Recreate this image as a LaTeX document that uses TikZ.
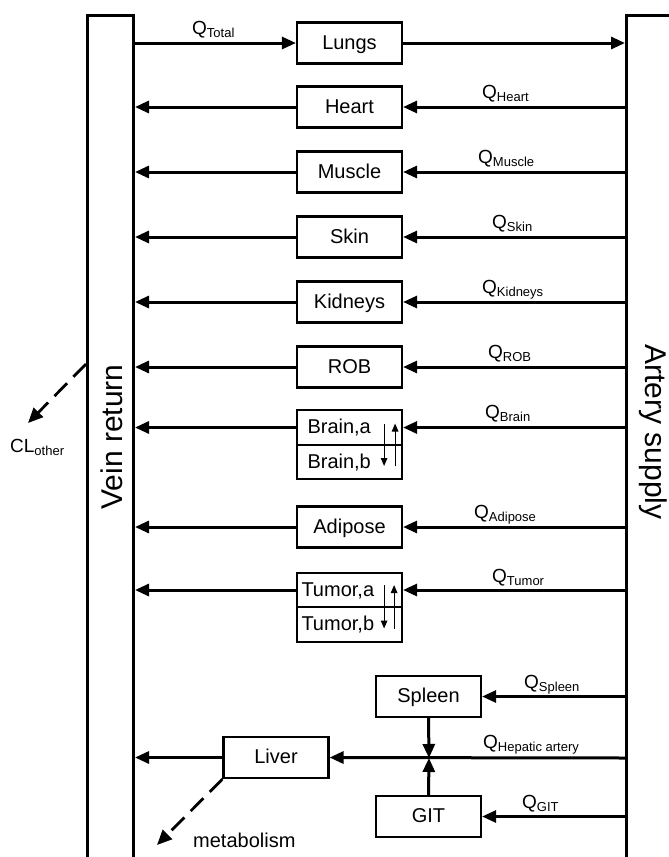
\documentclass[tikz,border=0pt]{standalone}
\usepackage{fontspec}
\setmainfont{Liberation Sans}
\usetikzlibrary{arrows.meta,calc}
\newcommand{\Qsub}[2]{#1\raisebox{-3pt}{\fontsize{13}{13}\selectfont #2}}
\begin{document}
\begin{tikzpicture}[x=1pt,y=-1pt,
  box/.style={draw,line width=2.2pt,minimum width=105pt,minimum height=41pt,inner sep=0pt,
    text height=14pt,text depth=2pt,font=\fontsize{20}{20}\selectfont},
  half/.style={draw,line width=2.2pt,text width=#1,minimum height=34.5pt,inner ysep=0pt,
    inner xsep={(105pt-#1)/2},align=left,text height=14pt,text depth=2pt,font=\fontsize{20}{20}\selectfont},
  col/.style={draw,line width=3pt,minimum width=46pt,minimum height=900pt,anchor=north west,inner sep=0pt},
  arr/.style={line width=3pt,-{Triangle[length=14pt,width=12pt]}},
  thinarr/.style={line width=1.2pt,-{Triangle[length=8pt,width=6.5pt]}},
  darr/.style={line width=2.8pt,dash pattern=on 18pt off 9pt,-{Triangle[length=15pt,width=13pt]}},
  qlab/.style={anchor=base west,inner sep=0pt,font=\fontsize{19}{19}\selectfont},
  coltext/.style={anchor=base,inner sep=0pt,font=\fontsize{30}{30}\selectfont},
  plain/.style={anchor=base west,inner sep=0pt,font=\fontsize{20}{20}\selectfont}
]
\useasboundingbox (0,0) rectangle (669,857);
% columns
\node[col] (vein) at (86,14) {};
\node[col] (artery) at (625,14) {};
\node[coltext,rotate=90] (veintext) at (122,437) {Vein return};
\node[coltext,rotate=-90] (arterytext) at (645,432) {Artery supply};
% organ boxes
\node[box] (lungs) at (349.5,43) {Lungs};
\node[box] (heart) at (349.5,107) {Heart};
\node[box] (muscle) at (349.5,172) {Muscle};
\node[box] (skin) at (349.5,237) {Skin};
\node[box] (kidneys) at (349.5,302) {Kidneys};
\node[box] (rob) at (349.5,367) {ROB};
\node[half=84pt] (braina) at (349.5,427.5) {Brain,a};
\node[half=84pt,anchor=north] (brainb) at ($(braina.south)+(0,-2.2)$) {Brain,b};
\node[box] (adipose) at (349.5,527) {Adipose};
\node[half=96pt] (tumora) at (349.5,590) {Tumor,a};
\node[half=96pt,anchor=north] (tumorb) at ($(tumora.south)+(0,-2.2)$) {Tumor,b};
\node[box] (spleen) at (428.5,696.5) {Spleen};
\node[box] (liver) at (276,757.5) {Liver};
\node[box] (git) at (428.5,816.5) {GIT};
\coordinate (junc) at (429,758);
% flows
\draw[arr] (vein.east |- lungs.west) -- (lungs.west);
\draw[arr] (lungs.east) -- (artery.west |- lungs.east);
\foreach \o in {heart,muscle,skin,kidneys,rob,braina,adipose,tumora}{
  \draw[arr] (artery.west |- \o.east) -- (\o.east);
  \draw[arr] (\o.west) -- (vein.east |- \o.west);
}
\draw[arr] (artery.west |- spleen.east) -- (spleen.east);
\draw[arr] (artery.west |- git.east) -- (git.east);
\draw[arr] (spleen.south) -- (junc);
\draw[arr] (git.north) -- (junc);
\draw[arr] (artery.west |- junc) -- (liver.east);
\draw[arr] (liver.west) -- (vein.east |- liver.west);
% internal exchange arrows
\draw[thinarr] ($(braina.east)+(-19,-4)$) -- ($(brainb.east)+(-19,4)$);
\draw[thinarr] ($(brainb.east)+(-8,4)$) -- ($(braina.east)+(-8,-4)$);
\draw[thinarr] ($(tumora.east)+(-19,-5)$) -- ($(tumorb.east)+(-19,4)$);
\draw[thinarr] ($(tumorb.east)+(-9,4)$) -- ($(tumora.east)+(-9,-5)$);
% elimination
\coordinate (clstart) at (86,364);
\coordinate (cltip) at (28,423);
\draw[darr] (clstart) -- (cltip);
\coordinate (mtip) at (157,845);
\draw[darr] (liver.south west) -- (mtip);
\node[qlab] (clother) at (10,452) {\Qsub{CL}{other}};
\node[plain] (metab) at (193,847) {metabolism};
% flow labels
\node[qlab] (qtotal) at (192,34) {\Qsub{Q}{Total}};
\node[qlab] (qheart) at (482,98) {\Qsub{Q}{Heart}};
\node[qlab] (qmuscle) at (478,163) {\Qsub{Q}{Muscle}};
\node[qlab] (qskin) at (492,228) {\Qsub{Q}{Skin}};
\node[qlab] (qkidneys) at (482,293) {\Qsub{Q}{Kidneys}};
\node[qlab] (qrob) at (488,358) {\Qsub{Q}{ROB}};
\node[qlab] (qbrain) at (485,418) {\Qsub{Q}{Brain}};
\node[qlab] (qadipose) at (474,518) {\Qsub{Q}{Adipose}};
\node[qlab] (qtumor) at (492,582) {\Qsub{Q}{Tumor}};
\node[qlab] (qspleen) at (524,688) {\Qsub{Q}{Spleen}};
\node[qlab] (qhepatic) at (483,748) {\Qsub{Q}{Hepatic artery}};
\node[qlab] (qgit) at (522,808) {\Qsub{Q}{GIT}};
\end{tikzpicture}
\end{document}
